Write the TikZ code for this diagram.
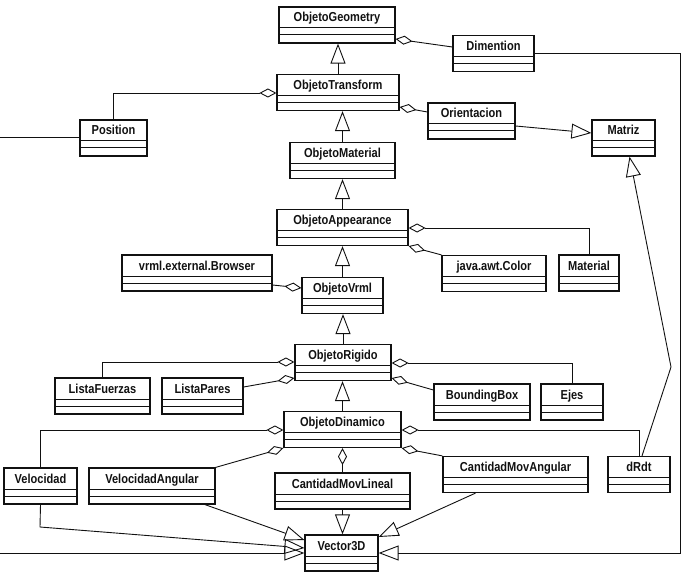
\documentclass[tikz,border=0pt]{standalone}
\usepackage{fontspec}
\setmainfont{Liberation Sans}[FakeStretch=0.85]
\usetikzlibrary{arrows.meta}
\definecolor{umlink}{HTML}{111111}

\begin{document}
\begin{tikzpicture}[x=1pt, y=-1pt, umlink,
    font=\fontsize{13}{15}\selectfont\bfseries,
    cls/.style={draw, line width=1.2pt, inner sep=0pt, minimum height=36pt,
        text height=15pt, text depth=21pt, minimum width=#1,
        path picture={
            \draw[line width=1pt] ([yshift=8pt]path picture bounding box.south west) -- ([yshift=8pt]path picture bounding box.south east);
            \draw[line width=1pt] ([yshift=15pt]path picture bounding box.south west) -- ([yshift=15pt]path picture bounding box.south east);
        }},
    agg/.style={line width=0.9pt, -{Diamond[open, length=17pt, width=9pt, line width=0.9pt]}},
    gen/.style={line width=0.9pt, -{Triangle[open, length=20pt, width=15pt, line width=0.9pt]}}]

    \useasboundingbox (0,0) rectangle (687,572);

    % Classes
    \node[cls=116pt] (geom) at (337,25) {ObjetoGeometry};
    \node[cls=81pt] (dim) at (493.5,53.5) {Dimention};
    \node[cls=122pt] (trans) at (338,92.5) {ObjetoTransform};
    \node[cls=67pt] (pos) at (113.5,138) {Position};
    \node[cls=87pt] (orient) at (471.5,121) {Orientacion};
    \node[cls=63pt] (matriz) at (623.5,138) {Matriz};
    \node[cls=105pt] (mat) at (342.5,160.5) {ObjetoMaterial};
    \node[cls=131pt] (app) at (342.5,227.5) {ObjetoAppearance};
    \node[cls=150pt] (browser) at (197,273) {vrml.external.Browser};
    \node[cls=81pt] (vrml) at (342.5,295.5) {ObjetoVrml};
    \node[cls=104pt] (color) at (494,273.5) {java.awt.Color};
    \node[cls=60pt] (material) at (589,273) {Material};
    \node[cls=96pt] (rig) at (343,362.5) {ObjetoRigido};
    \node[cls=95pt] (fuerzas) at (102.5,396) {ListaFuerzas};
    \node[cls=81pt] (pares) at (202.5,396) {ListaPares};
    \node[cls=96pt] (bbox) at (482,402) {BoundingBox};
    \node[cls=62pt] (ejes) at (572,402) {Ejes};
    \node[cls=117pt] (din) at (342.5,429.5) {ObjetoDinamico};
    \node[cls=73pt] (vel) at (40.5,486) {Velocidad};
    \node[cls=126pt] (velang) at (152,486) {VelocidadAngular};
    \node[cls=135pt] (lineal) at (342.5,491) {CantidadMovLineal};
    \node[cls=145pt] (angular) at (515.5,474.5) {CantidadMovAngular};
    \node[cls=62pt] (drdt) at (639,474.5) {dRdt};
    \node[cls=73pt] (vec) at (341.5,553) {Vector3D};

    % Inheritance chain
    \draw[gen] (trans.north) -- (trans.north |- geom.south);
    \draw[gen] (mat.north) -- (mat.north |- trans.south);
    \draw[gen] (app.north) -- (app.north |- mat.south);
    \draw[gen] (vrml.north) -- (vrml.north |- app.south);
    \draw[gen] (rig.north) -- (rig.north |- vrml.south);
    \draw[gen] (din.north) -- (din.north |- rig.south);
    \draw[gen] (orient.east |- 0,126) -- (matriz.west |- 0,133);
    \draw[gen] ([xshift=3pt]drdt.north) -- (671,367) -- ([xshift=6pt]matriz.south);

    % Aggregations
    \draw[agg] (dim.west |- 0,47) -- (geom.east |- 0,39);
    \draw[agg] (pos.north) |- (trans.west |- 0,93);
    \draw[agg] (orient.west |- 0,112) -- (trans.east |- 0,107);
    \draw[agg] (material.north) |- (app.east |- 0,228);
    \draw[agg] (color.north west) -- (app.south east);
    \draw[agg] (browser.east |- 0,285) -- (vrml.west |- 0,288);
    \draw[agg] (fuerzas.north) |- (rig.west |- 0,362);
    \draw[agg] (pares.east |- 0,387) -- (rig.west |- 0,378);
    \draw[agg] (ejes.north) |- (rig.east |- 0,363);
    \draw[agg] (bbox.west |- 0,390) -- (rig.east |- 0,378);
    \draw[agg] (vel.north) |- (din.west |- 0,430);
    \draw[agg] (velang.north east) -- (din.south west);
    \draw[agg] (lineal.north) -- (lineal.north |- din.south);
    \draw[agg] (angular.north west) -- (din.south east);
    \draw[agg] (drdt.north) |- (din.east |- 0,430);

    % Vector3D users
    \draw[gen] (vel.south) -- (40,527) -- (vec.west |- 0,548);
    \draw[gen] ([xshift=53pt]velang.south) -- (vec.west |- 0,540);
    \draw[gen] (lineal.south) -- (lineal.south |- vec.north);
    \draw[gen] ([xshift=-40pt]angular.south) -- (vec.east |- 0,537);
    \draw[gen] (pos.west |- 0,137) -- (-4,137) -- (-4,553) -- (vec.west |- 0,553);
    \draw[gen] (dim.east |- 0,53) -| (680,553) -- (vec.east |- 0,553);

\end{tikzpicture}
\end{document}
